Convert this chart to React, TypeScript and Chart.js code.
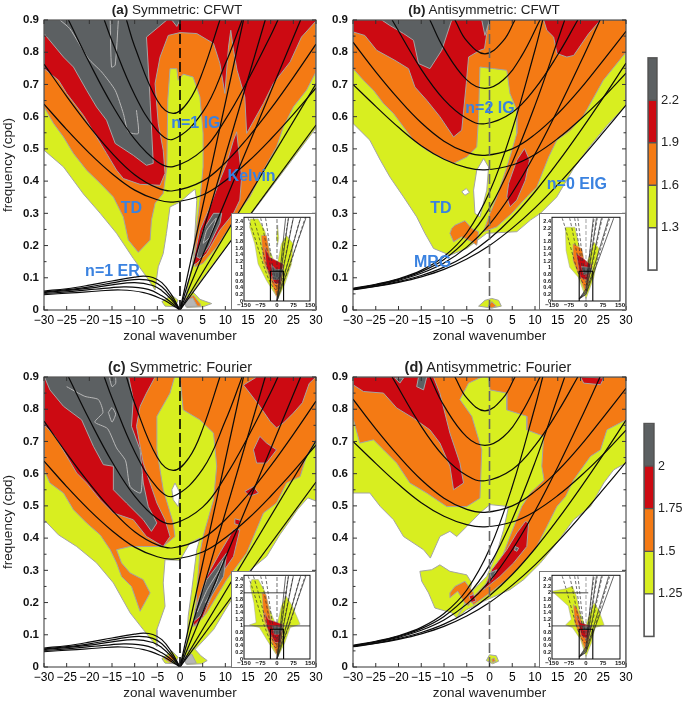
import React, { useEffect, useRef } from 'react';
import Chart from 'chart.js/auto';

type P = [number, number];

// ---- dispersion curves (wavenumber, cpd), symmetric panels
const kelvinLines: P[][] = [
  [[0, 0], [30, 0.574]],
  [[0, 0], [30, 0.702]],
  [[0, 0], [26.6, 0.9]],
  [[0, 0], [18.8, 0.9]],
  [[0, 0], [14, 0.9]],
];
const ig1Lines: P[][] = [
  [[-30, 0.639], [-25, 0.56], [-20, 0.487], [-15, 0.423], [-10, 0.372], [-5, 0.342], [-1.5, 0.335], [5, 0.357], [10, 0.401], [15, 0.46], [20, 0.53], [25, 0.607], [30, 0.689]],
  [[-30, 0.763], [-25, 0.663], [-20, 0.57], [-15, 0.487], [-10, 0.42], [-5, 0.379], [-1.5, 0.37], [5, 0.4], [10, 0.457], [15, 0.535], [20, 0.624], [25, 0.722], [30, 0.825]],
  [[-24.6, 0.9], [-20, 0.768], [-15, 0.637], [-10, 0.53], [-5, 0.46], [-1.5, 0.445], [5, 0.496], [10, 0.591], [15, 0.714], [20, 0.852], [21.6, 0.9]],
  [[-16.7, 0.9], [-15, 0.835], [-10, 0.668], [-5, 0.556], [-1.5, 0.53], [5, 0.614], [10, 0.764], [13.7, 0.9]],
  [[-11.8, 0.9], [-10, 0.818], [-5, 0.65], [-1.5, 0.61], [2, 0.65], [5, 0.739], [8.8, 0.9]],
];
const er1Lines: P[][] = [
  [[0, 0], [-2, 0.05], [-4, 0.085], [-6, 0.101], [-8, 0.105], [-10, 0.102], [-15, 0.09], [-20, 0.077], [-25, 0.066], [-30, 0.059]],
  [[0, 0], [-2, 0.041], [-4, 0.072], [-6, 0.089], [-9, 0.095], [-12, 0.091], [-15, 0.084], [-20, 0.072], [-25, 0.063], [-30, 0.056]],
  [[0, 0], [-2, 0.034], [-4, 0.06], [-6, 0.076], [-10, 0.085], [-15, 0.078], [-20, 0.068], [-25, 0.06], [-30, 0.054]],
  [[0, 0], [-2, 0.024], [-4, 0.044], [-7, 0.064], [-12, 0.072], [-16, 0.068], [-20, 0.063], [-25, 0.056], [-30, 0.051]],
  [[0, 0], [-2, 0.018], [-4, 0.034], [-8, 0.054], [-13, 0.062], [-18, 0.059], [-24, 0.053], [-30, 0.048]],
];
// ---- dispersion curves, antisymmetric panels
const eigLines: P[][] = [
  [[-30, 0.063], [-25, 0.073], [-20, 0.086], [-15, 0.103], [-10, 0.126], [-5, 0.158], [0, 0.2], [5, 0.254], [10, 0.317], [15, 0.389], [20, 0.468], [25, 0.551], [30, 0.636]],
  [[-30, 0.064], [-25, 0.074], [-20, 0.088], [-15, 0.107], [-10, 0.133], [-5, 0.17], [0, 0.221], [5, 0.287], [10, 0.367], [15, 0.458], [20, 0.556], [25, 0.659], [30, 0.766]],
  [[-30, 0.066], [-25, 0.077], [-20, 0.092], [-15, 0.114], [-10, 0.146], [-5, 0.195], [0, 0.266], [5, 0.364], [10, 0.484], [15, 0.621], [20, 0.768], [24.3, 0.9]],
  [[-30, 0.066], [-25, 0.078], [-20, 0.095], [-15, 0.119], [-10, 0.157], [-5, 0.219], [0, 0.316], [5, 0.458], [10, 0.635], [15, 0.837], [16.5, 0.899]],
  [[-30, 0.067], [-25, 0.08], [-20, 0.097], [-15, 0.123], [-10, 0.166], [-5, 0.239], [0, 0.366], [5, 0.56], [10, 0.807], [11.7, 0.9]],
];
const ig2Lines: P[][] = [
  [[-30, 0.7], [-25, 0.632], [-20, 0.567], [-15, 0.51], [-10, 0.468], [-5, 0.442], [-1, 0.435], [5, 0.45], [10, 0.483], [15, 0.532], [20, 0.592], [25, 0.66], [30, 0.735]],
  [[-30, 0.831], [-25, 0.739], [-20, 0.655], [-15, 0.581], [-10, 0.524], [-5, 0.489], [-1, 0.48], [5, 0.5], [10, 0.545], [15, 0.609], [20, 0.687], [25, 0.775], [30, 0.865]],
  [[-21.4, 0.9], [-15, 0.747], [-10, 0.653], [-5, 0.594], [-1, 0.578], [5, 0.613], [10, 0.687], [15, 0.792], [19.4, 0.9]],
  [[-13.1, 0.9], [-10, 0.811], [-5, 0.714], [-1, 0.688], [3, 0.714], [7, 0.787], [11.1, 0.9]],
  [[-7.6, 0.9], [-5, 0.835], [-1, 0.795], [3, 0.835], [5.6, 0.9]],
];
const zeroLine: P[] = [[0, 0], [0, 0.9]];

// ---- panel (a) contour regions
const aYellow: P[] = [[-30, 0.9], [30, 0.9], [30, 0.565], [20, 0.378], [11, 0.21], [4, 0.08], [1.2, 0.025], [1.6, 0.07], [2.8, 0.145], [3.3, 0.24], [3.7, 0.34], [3.3, 0.375], [2, 0.36], [0, 0.335], [-2.2, 0.32], [-3, 0.237], [-3.7, 0.175], [-4.8, 0.134], [-5.5, 0.062], [-7.4, 0.103], [-10.3, 0.16], [-14, 0.238], [-17.6, 0.3], [-21.3, 0.36], [-25.7, 0.444], [-30, 0.496]];
const aPatchL: P[] = [[-4, 0.026], [-1.8, 0.046], [-0.4, 0.03], [-1.1, 0.01], [-3.3, 0.012]];
const aPatchR: P[] = [[1.1, 0.041], [2.8, 0.057], [4.4, 0.033], [7, 0.02], [5.1, 0.01], [1.5, 0.008]];
const aPatchOrange: P[] = [[1, 0.035], [3, 0.045], [4.4, 0.02], [4.6, 0.012], [1.4, 0.012]];
const aPatchGrey: P[] = [[1, 0.03], [2.8, 0.038], [3.8, 0.012], [1.3, 0.01]];
const aOrange: P[] = [[-30, 0.9], [30, 0.9], [30, 0.739], [27.9, 0.682], [25, 0.63], [22.8, 0.568], [21.3, 0.506], [18.4, 0.434], [15.4, 0.351], [13.2, 0.31], [11, 0.258], [8.1, 0.196], [5.1, 0.145], [3.3, 0.134], [3.3, 0.217], [4.4, 0.341], [5.1, 0.444], [5.1, 0.548], [4.4, 0.661], [2.9, 0.723], [0.7, 0.732], [-0.4, 0.713], [-0.7, 0.749], [-2.2, 0.749], [-2.7, 0.651], [-2.9, 0.444], [-3.7, 0.362], [-5.5, 0.331], [-6.3, 0.279], [-6.6, 0.217], [-9.2, 0.179], [-11.4, 0.217], [-12.5, 0.289], [-14.7, 0.351], [-17.6, 0.393], [-20.6, 0.434], [-23.5, 0.486], [-25.7, 0.537], [-27.9, 0.579], [-30, 0.63]];
const aRed: P[] = [[-2.6, 0.852], [0, 0.861], [3.7, 0.858], [7.4, 0.827], [8.8, 0.765], [9.9, 0.672], [10.7, 0.816], [11.2, 0.868], [11.8, 0.806], [12.6, 0.744], [14.3, 0.661], [14.7, 0.548], [18.4, 0.641], [20.6, 0.703], [24.3, 0.77], [26.8, 0.847], [30, 0.897], [30, 0.9], [-30, 0.9], [-30, 0.749], [-26.8, 0.713], [-25, 0.672], [-21.3, 0.604], [-19.1, 0.553], [-16.2, 0.486], [-14, 0.434], [-12.5, 0.408], [-8.8, 0.39], [-4.4, 0.387], [-3.3, 0.424], [-3.7, 0.496], [-4.8, 0.579], [-5.5, 0.703], [-4.4, 0.785]];
const aRedKelvin: P[] = [[12.5, 0.553], [13.6, 0.413], [13.2, 0.341], [11.8, 0.3], [8.8, 0.248], [5.9, 0.176], [3.7, 0.145], [2.9, 0.139], [3.3, 0.176], [4.4, 0.248], [6.6, 0.32], [8.8, 0.403], [10.3, 0.455], [11.8, 0.527]];
const aGrey: P[] = [[-30, 0.9], [-2.9, 0.9], [-7.4, 0.847], [-7, 0.754], [-6.6, 0.651], [-5.9, 0.455], [-7.4, 0.449], [-10.3, 0.48], [-14.3, 0.517], [-16.2, 0.589], [-18.4, 0.63], [-20.6, 0.682], [-23.5, 0.754], [-25.7, 0.785], [-30, 0.858]];
const aGreyTip: P[] = [[-1.8, 0.9], [-0.7, 0.88], [0, 0.9]];
const aGreyKelvin: P[] = [[3.7, 0.165], [4.4, 0.16], [6.3, 0.196], [8.8, 0.269], [9.2, 0.3], [7.4, 0.3], [5.1, 0.248]];
const aContour1: P[] = [[-26.5, 0.9], [-24.3, 0.873], [-20.2, 0.78], [-17.3, 0.739], [-14.3, 0.682], [-12.5, 0.61], [-11.4, 0.553], [-9.2, 0.548], [-9.6, 0.62]];
const aContour2: P[] = [[-15.4, 0.9], [-15.1, 0.754], [-14.3, 0.76], [-13.6, 0.9]];
const aContour3: P[] = [[5.1, 0.207], [5.9, 0.248], [8, 0.285], [6.5, 0.225], [5.1, 0.207]];

// ---- panel (b) contour regions
const bYellow: P[] = [[-30, 0.9], [30, 0.9], [30, 0.635], [25.8, 0.572], [22.2, 0.51], [18.5, 0.44], [14.8, 0.351], [11.2, 0.3], [9, 0.279], [6, 0.243], [-0.6, 0.238], [-5, 0.191], [-8.7, 0.17], [-12.3, 0.191], [-14.2, 0.238], [-16, 0.289], [-18.9, 0.351], [-21.9, 0.413], [-24, 0.465], [-26.3, 0.527], [-30, 0.579]];
const bHoleA: P[] = [[-1.3, 0.47], [-0.2, 0.444], [-0.6, 0.372], [-2.1, 0.289], [-3.2, 0.3], [-3.5, 0.372], [-2.8, 0.434]];
const bHoleB: P[] = [[-6.1, 0.367], [-5.1, 0.377], [-4.4, 0.365], [-5.4, 0.356]];
const bPatchY: P[] = [[-2.4, 0.012], [-1, 0.03], [0.5, 0.036], [2, 0.03], [2.6, 0.012], [0.5, 0.006]];
const bPatchO: P[] = [[-0.3, 0.012], [0.5, 0.026], [1.5, 0.012], [0.5, 0.006]];
const bOrange: P[] = [[-30, 0.9], [-30, 0.749], [-27.7, 0.713], [-25.5, 0.682], [-23.3, 0.641], [-21.1, 0.61], [-18.9, 0.568], [-16.7, 0.527], [-13.8, 0.496], [-10.9, 0.475], [-7.9, 0.455], [-5, 0.475], [-2.8, 0.506], [-2.4, 0.6], [-2.1, 0.754], [0.9, 0.749], [3.8, 0.744], [4.5, 0.672], [6, 0.62], [6, 0.548], [4.5, 0.475], [3.1, 0.413], [1.6, 0.351], [0.1, 0.3], [-1.3, 0.243], [1.6, 0.258], [4.9, 0.3], [8.2, 0.351], [10.4, 0.382], [13, 0.475], [14.8, 0.527], [17.8, 0.558], [20.7, 0.604], [25, 0.713], [30, 0.8], [30, 0.9]];
const bOrangeIsle: P[] = [[-8.3, 0.253], [-7.6, 0.263], [-5.4, 0.277], [-3.9, 0.253], [-2.4, 0.243], [-2.8, 0.201], [-3.9, 0.212], [-6.1, 0.227], [-7.9, 0.212], [-8.7, 0.238]];
const bRed: P[] = [[-30, 0.9], [-30, 0.863], [-27.4, 0.852], [-24.8, 0.806], [-20.8, 0.775], [-17.8, 0.749], [-16.4, 0.692], [-13.8, 0.651], [-10.9, 0.6], [-7.9, 0.537], [-6.1, 0.558], [-5.1, 0.703], [-4.6, 0.785], [-2.1, 0.806], [-1.1, 0.811], [-0.6, 0.858], [-0.2, 0.9]];
const bRedRight: P[] = [[11.9, 0.9], [24.4, 0.9], [21.8, 0.858], [18.5, 0.79], [17, 0.785], [14.8, 0.796], [14.1, 0.847], [12.6, 0.868]];
const bRedBlob: P[] = [[7.7, 0.501], [8.8, 0.465], [7.9, 0.403], [6, 0.341], [4.5, 0.32], [3.8, 0.351], [4.2, 0.393], [6, 0.465]];
const bGrey: P[] = [[-23.7, 0.9], [-8.3, 0.9], [-10.5, 0.806], [-13.1, 0.749], [-15.6, 0.765], [-16.7, 0.837], [-18.9, 0.858], [-21.9, 0.883]];
const bGreyTip: P[] = [[-1.7, 0.9], [0, 0.9], [-1, 0.852]];

// ---- panel (c) contour regions
const cYellow: P[] = [[-30, 0.9], [30, 0.9], [30, 0.515], [28.2, 0.525], [26, 0.49], [22, 0.41], [19.1, 0.343], [15.4, 0.3], [11.8, 0.219], [7.4, 0.116], [3.3, 0.054], [0.4, 0.018], [1.5, 0.074], [1.8, 0.157], [2.6, 0.24], [3.7, 0.364], [4.4, 0.4], [2.2, 0.385], [0, 0.331], [-3.3, 0.333], [-3.7, 0.261], [-3.3, 0.188], [-5.1, 0.116], [-5.1, 0.064], [-8.1, 0.116], [-11, 0.168], [-14.7, 0.261], [-18.4, 0.323], [-22.8, 0.374], [-26.8, 0.41], [-30, 0.457]];
const cSlot: P[] = [[-1.1, 0.571], [0, 0.54], [-0.4, 0.498], [-1.5, 0.519], [-1.8, 0.55]];
const cPatchL: P[] = [[-4, 0.026], [-1.8, 0.05], [-0.4, 0.03], [-1.1, 0.01], [-3.3, 0.012]];
const cPatchR: P[] = [[1.1, 0.045], [3, 0.06], [4.6, 0.035], [6, 0.02], [4.8, 0.01], [1.5, 0.008]];
const cPatchO: P[] = [[-3.5, 0.026], [-1.8, 0.04], [-1, 0.025], [-2, 0.012]];
const cPatchG: P[] = [[1, 0.03], [2.6, 0.04], [3.6, 0.012], [1.3, 0.01]];
const cOrangeL: P[] = [[-30, 0.9], [-30, 0.612], [-28.7, 0.571], [-25.7, 0.54], [-23.5, 0.488], [-20.6, 0.447], [-17.6, 0.41], [-15.4, 0.364], [-14, 0.323], [-12.9, 0.281], [-10.7, 0.25], [-8.8, 0.173], [-6.6, 0.23], [-8.1, 0.271], [-11, 0.292], [-12.9, 0.323], [-14, 0.364], [-11, 0.374], [-8.1, 0.374], [-3.7, 0.374], [-1.1, 0.405], [-1.5, 0.447], [-3.7, 0.55], [-5.1, 0.674], [-5.1, 0.778], [-2.2, 0.85], [-1.2, 0.9]];
const cOrangeR: P[] = [[0, 0.9], [0.7, 0.798], [4.4, 0.767], [7.4, 0.726], [8.1, 0.623], [7.4, 0.519], [5.1, 0.405], [4.4, 0.354], [3.7, 0.24], [3.3, 0.126], [5.9, 0.168], [10.3, 0.271], [14.7, 0.354], [18.4, 0.478], [21.3, 0.509], [23.5, 0.571], [26.5, 0.591], [27.9, 0.654], [30, 0.705], [30, 0.9]];
const cRed: P[] = [[-30, 0.9], [-30, 0.752], [-27.6, 0.716], [-25.4, 0.664], [-22.8, 0.602], [-20.6, 0.571], [-17.6, 0.519], [-14.7, 0.478], [-10.3, 0.457], [-7.4, 0.405], [-3.7, 0.374], [-2.2, 0.405], [-3.3, 0.457], [-5.1, 0.509], [-8.1, 0.633], [-9.6, 0.747], [-8.8, 0.809], [-7.4, 0.85], [-5.5, 0.9]];
const cRedTop: P[] = [[14, 0.875], [16.9, 0.9], [30, 0.9], [28.5, 0.88], [27, 0.82], [25, 0.788], [22.8, 0.757], [21.3, 0.742], [19.9, 0.762], [17.6, 0.809], [15.4, 0.85]];
const cRedSpeckA: P[] = [[16.2, 0.674], [17.6, 0.716], [19.1, 0.695], [21.3, 0.674], [19.1, 0.633], [16.9, 0.633]];
const cRedSpeckB: P[] = [[14.3, 0.545], [16.2, 0.56], [17.3, 0.54], [15.4, 0.53]];
const cRedSpeckC: P[] = [[12.1, 0.46], [13.4, 0.455], [13, 0.44], [12, 0.445]];
const cRedKelvin: P[] = [[11.8, 0.426], [13.2, 0.426], [11.8, 0.343], [8.8, 0.281], [5.1, 0.157], [2.9, 0.126], [3.3, 0.178], [5.9, 0.281], [8.8, 0.354]];
const cGrey: P[] = [[-30, 0.9], [-11.3, 0.9], [-10.3, 0.83], [-10.7, 0.747], [-8.8, 0.674], [-8.1, 0.571], [-7, 0.498], [-5.1, 0.447], [-6.3, 0.421], [-8.1, 0.457], [-11.8, 0.509], [-14.7, 0.55], [-14.7, 0.623], [-16.9, 0.628], [-19.1, 0.685], [-21.7, 0.767], [-25.7, 0.809], [-28.7, 0.86], [-29.8, 0.897]];
const cGreyKelvin: P[] = [[10.3, 0.354], [9.6, 0.281], [7.4, 0.23], [4.4, 0.157], [2.9, 0.14], [3.7, 0.188], [5.9, 0.271], [8.1, 0.312]];
const cRingA: P[] = [[-15.8, 0.79], [-15, 0.805], [-14.2, 0.785], [-15, 0.76], [-15.8, 0.79]];
const cRingB: P[] = [[-15.6, 0.9], [-15, 0.87], [-14.2, 0.88], [-14.2, 0.9]];
const cContour1: P[] = [[-25, 0.87], [-21, 0.84], [-18, 0.83], [-17, 0.79], [-18.8, 0.76], [-16, 0.74], [-14, 0.68], [-12, 0.64], [-11, 0.56], [-8.7, 0.54], [-8.3, 0.6]];
const cContour2: P[] = [[3.8, 0.17], [6, 0.24], [8.6, 0.3], [9.5, 0.33], [8, 0.26], [5.6, 0.2]];

// ---- panel (d) contour regions
const dYellow: P[] = [[-30, 0.9], [30, 0.9], [30, 0.633], [27.3, 0.612], [25.1, 0.571], [22.2, 0.498], [18.5, 0.457], [14.8, 0.385], [11.2, 0.323], [7.5, 0.271], [4.5, 0.24], [-1.3, 0.204], [-2.8, 0.193], [-5, 0.178], [-7.2, 0.152], [-3.5, 0.24], [-0.6, 0.281], [1.6, 0.354], [3.1, 0.426], [4.2, 0.498], [0.1, 0.504], [-2.1, 0.478], [-5, 0.436], [-7.2, 0.405], [-8.7, 0.421], [-10.9, 0.405], [-13, 0.338], [-14.5, 0.364], [-18.9, 0.405], [-21.1, 0.457], [-24, 0.498], [-26.3, 0.54], [-30, 0.54]];
const dYellowIsle: P[] = [[-15.3, 0.297], [-12.7, 0.302], [-10.9, 0.317], [-8.7, 0.297], [-5, 0.286], [-3.9, 0.261], [-4.6, 0.219], [-7.2, 0.152], [-8.3, 0.168], [-12, 0.183], [-13.4, 0.23], [-14.9, 0.266]];
const dPatchY: P[] = [[-0.7, 0.02], [0, 0.038], [1.5, 0.035], [2, 0.018], [0.7, 0.01]];
const dPatchO: P[] = [[0.5, 0.024], [1, 0.028], [1.3, 0.018], [0.6, 0.014]];
const dOrangeL: P[] = [[-30, 0.9], [-30, 0.772], [-28.5, 0.695], [-25.5, 0.705], [-23.3, 0.674], [-20.4, 0.633], [-17.5, 0.571], [-13.8, 0.54], [-9.4, 0.498], [-5, 0.498], [-2.1, 0.524], [-1.7, 0.674], [-3.9, 0.778], [-6.5, 0.83], [-4.6, 0.881], [-1.7, 0.9]];
const dOrangeR: P[] = [[-0.2, 0.9], [0.1, 0.86], [3.8, 0.85], [3.8, 0.798], [8.2, 0.778], [8.2, 0.736], [11.9, 0.716], [11.5, 0.623], [12, 0.58], [9, 0.54], [7.1, 0.498], [4.5, 0.405], [2.3, 0.323], [-0.6, 0.261], [-3.5, 0.219], [-4.6, 0.214], [-3.5, 0.193], [0.1, 0.23], [3.8, 0.271], [6.7, 0.312], [10.4, 0.374], [12.6, 0.436], [14.8, 0.498], [16.7, 0.529], [18.5, 0.581], [22.2, 0.654], [24.4, 0.674], [25.8, 0.736], [30, 0.767], [30, 0.9]];
const dOrangeIsle: P[] = [[-8.7, 0.23], [-7.6, 0.25], [-5.4, 0.266], [-3.5, 0.23], [-4.6, 0.19], [-5.5, 0.2], [-7, 0.235], [-8.7, 0.215]];
const dRed: P[] = [[-30, 0.9], [-30, 0.876], [-27.7, 0.855], [-23.3, 0.85], [-20.4, 0.804], [-16.7, 0.772], [-13.1, 0.736], [-10.9, 0.695], [-8.7, 0.623], [-7.9, 0.55], [-5.7, 0.571], [-6.5, 0.633], [-8.7, 0.726], [-10.9, 0.85], [-12.3, 0.9]];
const dRedBlob: P[] = [[7.9, 0.452], [8.6, 0.447], [8.2, 0.374], [5.3, 0.323], [2.3, 0.281], [-1.3, 0.24], [0.5, 0.302], [3.8, 0.364], [6, 0.416]];
const dRedSmall: P[] = [[-4.5, 0.22], [-3.5, 0.225], [-3, 0.205], [-4, 0.2]];
const dRedTop: P[] = [[20, 0.9], [25.1, 0.897], [24.4, 0.876], [20.7, 0.881]];
const dGreyA: P[] = [[-20.8, 0.897], [-18.9, 0.897], [-19.7, 0.881]];
const dGreyB: P[] = [[-15.6, 0.9], [-13.8, 0.9], [-14.5, 0.86], [-16, 0.87]];
const dGreyC: P[] = [[5.6, 0.374], [6.4, 0.369], [6, 0.359], [5.4, 0.364]];
const dGreyD: P[] = [[0.1, 0.292], [1.6, 0.302], [0.5, 0.271]];

// ---- inset regions and lines
const inAYellow: P[] = [[-121, 2.48], [-86, 2.48], [-56, 2.13], [-33, 1.53], [-2, 1.02], [20, 1.73], [43, 1.98], [74, 1.73], [66, 1.12], [36, 0.52], [5, 0.07], [-10, 0.22], [-48, 0.62], [-86, 1.12], [-101, 1.73], [-124, 2.23]];
const inAOrange: P[] = [[-71, 1.98], [-48, 1.98], [-25, 1.12], [28, 1.02], [20, 0.52], [-2, 0.12], [-33, 0.72], [-63, 1.22]];
const inARed: P[] = [[-56, 1.63], [-33, 1.32], [28, 1.12], [13, 0.52], [-10, 0.52], [-48, 1.02]];
const inAGrey: P[] = [[-25, 1.1], [-5, 0.95], [27, 0.95], [13, 0.65], [-18, 0.65]];
const inASpike: P[] = [[3, 2.3], [8, 1.9], [3, 1.7], [-2, 1.9]];
const inBYellow: P[] = [[-91, 2.23], [-49, 2.23], [-26, 1.53], [-3, 1.02], [35, 1.78], [58, 1.58], [35, 0.72], [0, 0.07], [-34, 0.72], [-72, 1.02], [-88, 1.53]];
const inBOrange: P[] = [[-57, 1.73], [-18, 1.58], [-3, 1.02], [28, 1.12], [12, 0.62], [0, 0.22], [-34, 0.82], [-57, 1.22]];
const inBRed: P[] = [[-42, 1.43], [-18, 1.32], [20, 1.1], [5, 0.62], [-26, 0.72]];
const inBGrey: P[] = [[-20, 1.05], [25, 1], [25, 0.87], [-10, 0.8]];
const inCYellow: P[] = [[-115, 2.4], [-85, 2.4], [-56, 2.05], [-33, 1.5], [-2, 0.98], [20, 1.6], [42, 1.9], [70, 1.6], [105, 1.05], [60, 0.95], [36, 0.5], [5, 0.07], [-10, 0.2], [-48, 0.6], [-80, 0.95], [-125, 1.03], [-95, 1.1], [-105, 1.7], [-122, 2.2]];
const inCOrange: P[] = [[-68, 2], [-50, 1.95], [-25, 1.1], [28, 1], [20, 0.5], [-2, 0.12], [-33, 0.7], [-60, 1.2]];
const inCRed: P[] = [[-55, 1.4], [-40, 1.2], [25, 1.05], [13, 0.5], [-10, 0.5], [-45, 0.95]];
const inCGrey: P[] = [[-20, 1], [25, 0.95], [12, 0.75], [-12, 0.75]];
const inDYellow: P[] = [[-90, 2.12], [-60, 2.2], [-42, 1.9], [-26, 1.4], [-3, 0.98], [35, 1.7], [55, 1.5], [80, 1.03], [40, 0.95], [25, 0.5], [0, 0.07], [-25, 0.6], [-60, 0.95], [-90, 1.03], [-65, 1.2], [-78, 1.6], [-150, 2.05]];
const inDOrange: P[] = [[-55, 1.65], [-38, 1.5], [-15, 1.05], [25, 1], [10, 0.55], [0, 0.22], [-30, 0.75], [-50, 1.1]];
const inDRed: P[] = [[-42, 1.3], [-25, 1.1], [20, 1], [5, 0.6], [-20, 0.7]];
const inDGrey: P[] = [[-15, 0.98], [20, 0.97], [15, 0.88], [-12, 0.88]];
const inFanSym: P[][] = [[[0, 0], [131, 2.5]], [[0, 0], [107, 2.5]], [[0, 0], [74, 2.5]], [[0, 0], [52, 2.5]], [[0, 0], [39, 2.5]]];
const inFanIg: P[][] = [[[-131, 2.5], [-1, 0.34], [131, 2.55]], [[-107, 2.5], [-1, 0.45], [107, 2.5]], [[-74, 2.5], [-1, 0.53], [74, 2.5]], [[-52, 2.5], [-1, 0.61], [52, 2.5]]];
const inFanAnti: P[][] = [[[-30, 0.06], [0, 0.2], [122, 2.5]], [[-30, 0.065], [0, 0.22], [100, 2.5]], [[-30, 0.066], [0, 0.27], [68, 2.5]], [[-30, 0.066], [0, 0.32], [46, 2.5]], [[-30, 0.067], [0, 0.37], [32, 2.5]]];
const inFanIg2: P[][] = [[[-105, 2.5], [-1, 0.48], [105, 2.5]], [[-72, 2.5], [-1, 0.58], [72, 2.5]], [[-50, 2.5], [-1, 0.69], [50, 2.5]], [[-36, 2.5], [-1, 0.8], [36, 2.5]]];
const inBoxEdge: P[] = [[-30, 0], [-30, 0.9], [30, 0.9], [30, 0]];
const inZero: P[] = [[0, 0], [0, 2.5]];
const inNoise1: P[] = [[-150, 1], [150, 1]];
const inNoise2: P[] = [[-150, 2], [45, 2]];
const inNoise2b: P[] = [[-150, 2], [10, 2]];

// ---- text and colour bars
const titleBold = ['(a)', '(b)', '(c)', '(d)'];
const titleRest = ['Symmetric: CFWT', 'Antisymmetric: CFWT', 'Symmetric: Fourier', 'Antisymmetric: Fourier'];
const labelsA = [{ t: 'n=1 IG', x: 3.5, y: 0.577 }, { t: 'Kelvin', x: 15.8, y: 0.415 }, { t: 'TD', x: -10.7, y: 0.315 }, { t: 'n=1 ER', x: -14.9, y: 0.119 }];
const labelsB = [{ t: 'n=2 IG', x: 0.1, y: 0.625 }, { t: 'TD', x: -10.7, y: 0.315 }, { t: 'MRG', x: -12.5, y: 0.148 }, { t: 'n=0 EIG', x: 19.2, y: 0.39 }];
const barLevelsTop = [1, 1.3, 1.6, 1.9, 2.2, 2.5];
const barLevelsBottom = [1, 1.25, 1.5, 1.75, 2, 2.25];

const YELLOW = '#d8ee20';
const ORANGE = '#f47a14';
const RED = '#cc0a12';
const GREY = '#5c6062';
const PALE = '#b6b6b6';
const WHITE = '#ffffff';
const BAR_COLORS = [WHITE, YELLOW, ORANGE, RED, GREY];
const FONT = '"Liberation Sans", Arial, sans-serif';

type Layer = [string, P[][]];
const layersA: Layer[] = [[YELLOW, [aYellow, aPatchL, aPatchR]], [ORANGE, [aOrange, aPatchOrange]], [RED, [aRed, aRedKelvin]], [GREY, [aGrey, aGreyTip, aGreyKelvin]], [PALE, [aPatchGrey]]];
const layersB: Layer[] = [[YELLOW, [bYellow, bPatchY]], [WHITE, [bHoleA, bHoleB]], [ORANGE, [bOrange, bOrangeIsle, bPatchO]], [RED, [bRed, bRedRight, bRedBlob]], [GREY, [bGrey, bGreyTip]]];
const layersC: Layer[] = [[YELLOW, [cYellow, cPatchL, cPatchR]], [WHITE, [cSlot]], [ORANGE, [cOrangeL, cOrangeR, cPatchO]], [RED, [cRed, cRedTop, cRedSpeckA, cRedSpeckB, cRedSpeckC, cRedKelvin]], [GREY, [cGrey, cGreyKelvin]], [PALE, [cPatchG]]];
const layersD: Layer[] = [[YELLOW, [dYellow, dYellowIsle, dPatchY]], [ORANGE, [dOrangeL, dOrangeR, dOrangeIsle, dPatchO]], [RED, [dRed, dRedBlob, dRedSmall, dRedTop]], [GREY, [dGreyA, dGreyB, dGreyC, dGreyD]]];

const toXY = (pts: P[]) => pts.map(([x, y]) => ({ x, y }));

function polyDs(pts: P[], color: string, borderWidth = 1, border = '#a4a4a4') {
  const closed = [...pts, pts[0]];
  return { data: toXY(closed), showLine: true, fill: 'shape', backgroundColor: color, borderColor: border, borderWidth, pointRadius: 0, tension: 0 };
}
function lineDs(pts: P[], color: string, width: number, dash: number[] = [], tension = 0.4) {
  return { data: toXY(pts), showLine: true, fill: false, borderColor: color, backgroundColor: color, borderWidth: width, borderDash: dash, pointRadius: 0, tension };
}
function ordered(list: any[]) {
  return list.map((d, i) => ({ ...d, order: -i }));
}

const framePlugin = {
  id: 'frame',
  afterDatasetsDraw(chart: any, _a: any, opts: any) {
    const { ctx, chartArea: a, scales } = chart;
    const { x, y } = scales;
    ctx.save();
    ctx.strokeStyle = opts.color || '#222';
    ctx.lineWidth = opts.width || 1;
    ctx.strokeRect(a.left, a.top, a.right - a.left, a.bottom - a.top);
    const L = opts.major || 0;
    const m = opts.minor || 0;
    if (L) {
      ctx.beginPath();
      const xt = x.ticks.map((t: any) => t.value);
      const yt = y.ticks.map((t: any) => t.value);
      xt.forEach((v: number) => {
        const p = x.getPixelForValue(v);
        ctx.moveTo(p, a.bottom); ctx.lineTo(p, a.bottom - L);
        ctx.moveTo(p, a.top); ctx.lineTo(p, a.top + L);
      });
      yt.forEach((v: number, i: number) => {
        const p = y.getPixelForValue(v);
        ctx.moveTo(a.left, p); ctx.lineTo(a.left + L, p);
        ctx.moveTo(a.right, p); ctx.lineTo(a.right - L, p);
        if (m && i < yt.length - 1) {
          const q = y.getPixelForValue((v + yt[i + 1]) / 2);
          ctx.moveTo(a.left, q); ctx.lineTo(a.left + m, q);
          ctx.moveTo(a.right, q); ctx.lineTo(a.right - m, q);
        }
      });
      ctx.stroke();
    }
    if (opts.labels) {
      ctx.fillStyle = '#3a82e0';
      ctx.font = `bold 16px ${FONT}`;
      ctx.textAlign = 'center';
      ctx.textBaseline = 'middle';
      opts.labels.forEach((l: any) => ctx.fillText(l.t, x.getPixelForValue(l.x), y.getPixelForValue(l.y)));
    }
    ctx.restore();
  },
};
const insetBack = {
  id: 'insetBack',
  afterDraw(chart: any) {
    const { ctx, width, height } = chart;
    ctx.save();
    ctx.strokeStyle = '#777';
    ctx.lineWidth = 1;
    ctx.strokeRect(0.5, 0.5, width - 1, height - 1);
    ctx.restore();
  },
};

const noGrid = { display: false, drawTicks: false };

function makeMain(canvas: HTMLCanvasElement, layers: Layer[], lines: any[], contours: P[][], labels: any[], yTitle: boolean, leftW: number, rightPad: number, dashColor: string) {
  const sets: any[] = [];
  layers.forEach(([c, polys]) => polys.forEach((p) => sets.push(polyDs(p, c))));
  contours.forEach((c) => sets.push(lineDs(c, '#b8b8b8', 1, [], 0.2)));
  lines.forEach((l) => sets.push(l));
  sets.push(lineDs(zeroLine, dashColor, 1.6, [10, 4], 0));
  return new Chart(canvas, {
    type: 'scatter',
    data: { datasets: ordered(sets) },
    plugins: [framePlugin],
    options: {
      animation: false, responsive: false, events: [],
      layout: { autoPadding: false, padding: { top: 20, right: rightPad, left: 0, bottom: 0 } },
      plugins: { legend: { display: false }, tooltip: { enabled: false }, frame: { labels, major: 4, minor: 2.5, color: '#333' } } as any,
      scales: {
        x: {
          type: 'linear', min: -30, max: 30,
          afterFit: (s: any) => { s.height = 35; },
          grid: noGrid, border: { display: false },
          ticks: { stepSize: 5, autoSkip: false, maxRotation: 0, padding: 3, color: '#000', font: { family: FONT, size: 12 }, callback: (v: any) => String(v).replace('-', '\u2212') },
          title: { display: true, text: 'zonal wavenumber', color: '#222', padding: { top: 0, bottom: 1 }, font: { family: FONT, size: 13.5 } },
        },
        y: {
          type: 'linear', min: 0, max: 0.9,
          afterFit: (s: any) => { s.width = leftW; },
          grid: noGrid, border: { display: false },
          ticks: { stepSize: 0.1, autoSkip: false, padding: 5, color: '#111', font: { family: FONT, size: 11.5, weight: 'bold' }, callback: (v: any) => (v === 0 ? '0' : Number(v).toFixed(1)) },
          title: { display: yTitle, text: 'frequency (cpd)', color: '#222', padding: { top: 0, bottom: 0 }, font: { family: FONT, size: 13.5 } },
        },
      },
    } as any,
  });
}

function makeInset(canvas: HTMLCanvasElement, layers: Layer[], fans: P[][], dashed: P[][], noise: P[][], zeroColor: string) {
  const sets: any[] = [];
  layers.forEach(([c, polys]) => polys.forEach((p) => sets.push(polyDs(p, c, 0.5))));
  noise.forEach((n) => sets.push(lineDs(n, '#444', 1, [], 0)));
  fans.forEach((f) => sets.push(lineDs(f, '#222', 0.7, [], 0)));
  dashed.forEach((f) => sets.push(lineDs(f, '#333', 0.7, [3, 2], 0.3)));
  sets.push(lineDs(inZero, zeroColor, 0.7, [4, 2], 0));
  sets.push(lineDs(inBoxEdge, '#000', 1.1, [], 0));
  return new Chart(canvas, {
    type: 'scatter',
    data: { datasets: ordered(sets) },
    plugins: [framePlugin, insetBack],
    options: {
      animation: false, responsive: false, events: [],
      layout: { autoPadding: false, padding: { top: 4, right: 6, left: 0, bottom: 0 } },
      plugins: { legend: { display: false }, tooltip: { enabled: false }, frame: { major: 0, minor: 0, color: '#111', width: 1 } } as any,
      scales: {
        x: {
          type: 'linear', min: -150, max: 150,
          afterFit: (s: any) => { s.height = 9; },
          grid: noGrid, border: { display: false },
          ticks: { stepSize: 75, autoSkip: false, maxRotation: 0, padding: 1, color: '#111', font: { family: FONT, size: 6, weight: 'bold' }, callback: (v: any) => String(v).replace('-', '\u2212') },
        },
        y: {
          type: 'linear', min: 0, max: 2.53,
          afterFit: (s: any) => { s.width = 13; },
          grid: noGrid, border: { display: false },
          ticks: { stepSize: 0.2, includeBounds: false, autoSkip: false, padding: 1, color: '#111', font: { family: FONT, size: 5.5, weight: 'bold' }, callback: (v: any) => String(+Number(v).toFixed(1)) },
        },
      },
    } as any,
  });
}

function makeBar(canvas: HTMLCanvasElement, levels: number[], fmt: (v: number) => string, rightW: number, size: number) {
  const min = levels[0];
  const max = levels[levels.length - 1];
  return new Chart(canvas, {
    type: 'bar',
    data: {
      labels: [''],
      datasets: BAR_COLORS.map((c, i) => ({ data: [[levels[i], levels[i + 1]]], backgroundColor: c, borderColor: '#555', borderWidth: 1, borderSkipped: false, barPercentage: 1, categoryPercentage: 1 })),
    } as any,
    plugins: [framePlugin],
    options: {
      animation: false, responsive: false, events: [],
      layout: { autoPadding: false, padding: { left: 8, top: 8, right: 0, bottom: 8 } },
      plugins: { legend: { display: false }, tooltip: { enabled: false }, frame: { major: 0, minor: 0, color: '#555', width: 1.4 } } as any,
      scales: {
        x: { display: false, stacked: true },
        y: {
          position: 'right', min, max,
          afterFit: (s: any) => { s.width = rightW; },
          grid: noGrid, border: { display: false },
          ticks: { stepSize: levels[1] - levels[0], autoSkip: false, padding: 4, color: '#222', font: { family: FONT, size }, callback: (v: any) => (v <= min + 1e-6 || v >= max - 1e-6 ? '' : fmt(v)) },
        },
      },
    } as any,
  });
}

const blackSet = (arr: P[][]) => arr.map((l) => lineDs(l, '#0a0a0a', 1.2));
const straightSet = (arr: P[][]) => arr.map((l) => lineDs(l, '#0a0a0a', 1.2, [], 0));

const abs = (left: number, top: number): React.CSSProperties => ({ position: 'absolute', left, top, display: 'block' });

function Title({ i, x, y, size }: { i: number; x: number; y: number; size: number }) {
  return (
    <div style={{ position: 'absolute', left: x, top: y, transform: 'translate(-50%,-50%)', whiteSpace: 'nowrap', font: `${size}px ${FONT}`, color: '#222' }}>
      <b>{titleBold[i]}</b> {titleRest[i]}
    </div>
  );
}

export default function App() {
  const ma = useRef<HTMLCanvasElement>(null);
  const mb = useRef<HTMLCanvasElement>(null);
  const mc = useRef<HTMLCanvasElement>(null);
  const md = useRef<HTMLCanvasElement>(null);
  const ia = useRef<HTMLCanvasElement>(null);
  const ib = useRef<HTMLCanvasElement>(null);
  const ic = useRef<HTMLCanvasElement>(null);
  const id = useRef<HTMLCanvasElement>(null);
  const ba = useRef<HTMLCanvasElement>(null);
  const bb = useRef<HTMLCanvasElement>(null);

  useEffect(() => {
    const symLines = [...straightSet(kelvinLines), ...blackSet(ig1Lines), ...blackSet(er1Lines)];
    const antiLines = [...blackSet(eigLines), ...blackSet(ig2Lines)];
    const charts = [
      makeMain(ma.current!, layersA, symLines, [aContour1, aContour2, aContour3], labelsA, true, 44, 24, '#000'),
      makeMain(mb.current!, layersB, antiLines, [], labelsB, false, 33, 34, '#666'),
      makeMain(mc.current!, layersC, symLines, [cContour1, cContour2, cRingA, cRingB], [], true, 44, 24, '#000'),
      makeMain(md.current!, layersD, antiLines, [], [], false, 33, 34, '#666'),
      makeInset(ia.current!, [[YELLOW, [inAYellow, inASpike]], [ORANGE, [inAOrange]], [RED, [inARed]], [GREY, [inAGrey]]], inFanSym, inFanIg, [], '#333'),
      makeInset(ib.current!, [[YELLOW, [inBYellow]], [ORANGE, [inBOrange]], [RED, [inBRed]], [GREY, [inBGrey]]], inFanAnti, inFanIg2, [], '#777'),
      makeInset(ic.current!, [[YELLOW, [inCYellow]], [ORANGE, [inCOrange]], [RED, [inCRed]], [GREY, [inCGrey]]], inFanSym, inFanIg, [inNoise1, inNoise2], '#333'),
      makeInset(id.current!, [[YELLOW, [inDYellow]], [ORANGE, [inDOrange]], [RED, [inDRed]], [GREY, [inDGrey]]], inFanAnti, inFanIg2, [inNoise1, inNoise2b], '#777'),
      makeBar(ba.current!, barLevelsTop, (v) => v.toFixed(1), 28, 13),
      makeBar(bb.current!, barLevelsBottom, (v) => String(+v.toFixed(2)), 31, 12.5),
    ];
    return () => charts.forEach((c) => c.destroy());
  }, []);

  return (
    <div style={{ position: 'absolute', left: 0, top: 0, width: 685, height: 702, overflow: 'hidden', background: '#fff' }}>
      <canvas ref={ma} width={340} height={345} style={abs(0, 0)} />
      <canvas ref={mb} width={340} height={345} style={abs(320, 0)} />
      <canvas ref={mc} width={340} height={345} style={abs(0, 357)} />
      <canvas ref={md} width={340} height={345} style={abs(320, 357)} />
      <canvas ref={ia} width={85} height={97} style={{ ...abs(231, 213), background: '#fff' }} />
      <canvas ref={ib} width={87} height={97} style={{ ...abs(539, 213), background: '#fff' }} />
      <canvas ref={ic} width={85} height={97} style={{ ...abs(231, 571), background: '#fff' }} />
      <canvas ref={id} width={87} height={97} style={{ ...abs(539, 571), background: '#fff' }} />
      <canvas ref={ba} width={45} height={236} style={abs(640, 46)} />
      <canvas ref={bb} width={49} height={236} style={abs(636, 412)} />
      <Title i={0} x={177} y={9} size={13.5} />
      <Title i={1} x={484} y={9} size={13.5} />
      <Title i={2} x={180} y={367} size={14.5} />
      <Title i={3} x={488} y={367} size={14.5} />
    </div>
  );
}
